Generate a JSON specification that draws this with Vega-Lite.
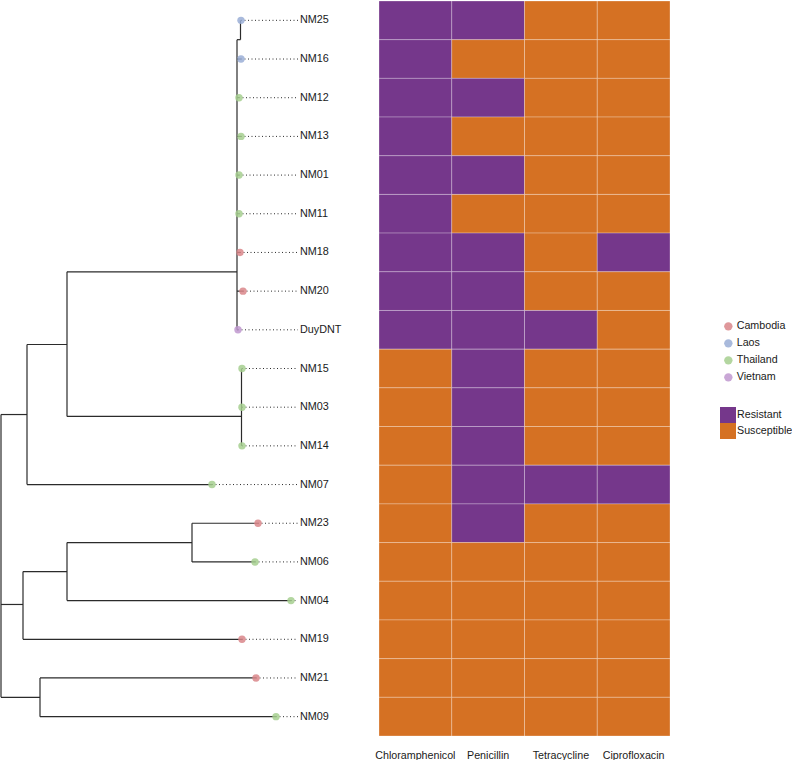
{
  "$schema": "https://vega.github.io/schema/vega-lite/v6.json",
  "padding": 0,
  "spacing": 0,
  "bounds": "flush",
  "config": {
    "view": {"stroke": null},
    "font": "Liberation Sans",
    "legend": {"labelFontSize": 10.7, "labelColor": "#1a1a1a", "labelFont": "Liberation Sans"}
  },
  "datasets": {
    "tips": [
      {"name": "NM25", "row": 0, "x": 241, "country": "Laos"},
      {"name": "NM16", "row": 1, "x": 241, "country": "Laos"},
      {"name": "NM12", "row": 2, "x": 239, "country": "Thailand"},
      {"name": "NM13", "row": 3, "x": 241, "country": "Thailand"},
      {"name": "NM01", "row": 4, "x": 239, "country": "Thailand"},
      {"name": "NM11", "row": 5, "x": 239, "country": "Thailand"},
      {"name": "NM18", "row": 6, "x": 240, "country": "Cambodia"},
      {"name": "NM20", "row": 7, "x": 243, "country": "Cambodia"},
      {"name": "DuyDNT", "row": 8, "x": 238, "country": "Vietnam"},
      {"name": "NM15", "row": 9, "x": 242, "country": "Thailand"},
      {"name": "NM03", "row": 10, "x": 242, "country": "Thailand"},
      {"name": "NM14", "row": 11, "x": 242, "country": "Thailand"},
      {"name": "NM07", "row": 12, "x": 212, "country": "Thailand"},
      {"name": "NM23", "row": 13, "x": 258, "country": "Cambodia"},
      {"name": "NM06", "row": 14, "x": 255, "country": "Thailand"},
      {"name": "NM04", "row": 15, "x": 291, "country": "Thailand"},
      {"name": "NM19", "row": 16, "x": 242, "country": "Cambodia"},
      {"name": "NM21", "row": 17, "x": 256, "country": "Cambodia"},
      {"name": "NM09", "row": 18, "x": 276, "country": "Thailand"}
    ],
    "segs": [
      {"x1": 1, "x2": 1, "y1": 10.19, "y2": 17.5},
      {"x1": 1, "x2": 27, "y1": 10.19, "y2": 10.19},
      {"x1": 1, "x2": 23, "y1": 15.1, "y2": 15.1},
      {"x1": 1, "x2": 40, "y1": 17.5, "y2": 17.5},
      {"x1": 27, "x2": 27, "y1": 8.38, "y2": 12},
      {"x1": 27, "x2": 67, "y1": 8.38, "y2": 8.38},
      {"x1": 27, "x2": 212, "y1": 12, "y2": 12},
      {"x1": 67, "x2": 67, "y1": 6.5, "y2": 10.24},
      {"x1": 67, "x2": 237, "y1": 6.5, "y2": 6.5},
      {"x1": 67, "x2": 241.5, "y1": 10.24, "y2": 10.24},
      {"x1": 237, "x2": 237, "y1": 0.5, "y2": 8},
      {"x1": 240.5, "x2": 240.5, "y1": 0, "y2": 0.5},
      {"x1": 237, "x2": 240.5, "y1": 0.5, "y2": 0.5},
      {"x1": 237, "x2": 241, "y1": 1, "y2": 1},
      {"x1": 237, "x2": 239, "y1": 2, "y2": 2},
      {"x1": 237, "x2": 241, "y1": 3, "y2": 3},
      {"x1": 237, "x2": 239, "y1": 4, "y2": 4},
      {"x1": 237, "x2": 239, "y1": 5, "y2": 5},
      {"x1": 237, "x2": 240, "y1": 6, "y2": 6},
      {"x1": 237, "x2": 243, "y1": 7, "y2": 7},
      {"x1": 237, "x2": 238, "y1": 8, "y2": 8},
      {"x1": 241.5, "x2": 241.5, "y1": 9, "y2": 11},
      {"x1": 23, "x2": 23, "y1": 14.25, "y2": 16},
      {"x1": 23, "x2": 67, "y1": 14.25, "y2": 14.25},
      {"x1": 23, "x2": 242, "y1": 16, "y2": 16},
      {"x1": 67, "x2": 67, "y1": 13.5, "y2": 15},
      {"x1": 67, "x2": 192, "y1": 13.5, "y2": 13.5},
      {"x1": 67, "x2": 291, "y1": 15, "y2": 15},
      {"x1": 192, "x2": 192, "y1": 13, "y2": 14},
      {"x1": 192, "x2": 258, "y1": 13, "y2": 13},
      {"x1": 192, "x2": 255, "y1": 14, "y2": 14},
      {"x1": 40, "x2": 40, "y1": 17, "y2": 18},
      {"x1": 40, "x2": 256, "y1": 17, "y2": 17},
      {"x1": 40, "x2": 276, "y1": 18, "y2": 18}
    ],
    "amr": [
      {"name": "NM25", "Chloramphenicol": "Resistant", "Penicillin": "Resistant", "Tetracycline": "Susceptible", "Ciprofloxacin": "Susceptible"},
      {"name": "NM16", "Chloramphenicol": "Resistant", "Penicillin": "Susceptible", "Tetracycline": "Susceptible", "Ciprofloxacin": "Susceptible"},
      {"name": "NM12", "Chloramphenicol": "Resistant", "Penicillin": "Resistant", "Tetracycline": "Susceptible", "Ciprofloxacin": "Susceptible"},
      {"name": "NM13", "Chloramphenicol": "Resistant", "Penicillin": "Susceptible", "Tetracycline": "Susceptible", "Ciprofloxacin": "Susceptible"},
      {"name": "NM01", "Chloramphenicol": "Resistant", "Penicillin": "Resistant", "Tetracycline": "Susceptible", "Ciprofloxacin": "Susceptible"},
      {"name": "NM11", "Chloramphenicol": "Resistant", "Penicillin": "Susceptible", "Tetracycline": "Susceptible", "Ciprofloxacin": "Susceptible"},
      {"name": "NM18", "Chloramphenicol": "Resistant", "Penicillin": "Resistant", "Tetracycline": "Susceptible", "Ciprofloxacin": "Resistant"},
      {"name": "NM20", "Chloramphenicol": "Resistant", "Penicillin": "Resistant", "Tetracycline": "Susceptible", "Ciprofloxacin": "Susceptible"},
      {"name": "DuyDNT", "Chloramphenicol": "Resistant", "Penicillin": "Resistant", "Tetracycline": "Resistant", "Ciprofloxacin": "Susceptible"},
      {"name": "NM15", "Chloramphenicol": "Susceptible", "Penicillin": "Resistant", "Tetracycline": "Susceptible", "Ciprofloxacin": "Susceptible"},
      {"name": "NM03", "Chloramphenicol": "Susceptible", "Penicillin": "Resistant", "Tetracycline": "Susceptible", "Ciprofloxacin": "Susceptible"},
      {"name": "NM14", "Chloramphenicol": "Susceptible", "Penicillin": "Resistant", "Tetracycline": "Susceptible", "Ciprofloxacin": "Susceptible"},
      {"name": "NM07", "Chloramphenicol": "Susceptible", "Penicillin": "Resistant", "Tetracycline": "Resistant", "Ciprofloxacin": "Resistant"},
      {"name": "NM23", "Chloramphenicol": "Susceptible", "Penicillin": "Resistant", "Tetracycline": "Susceptible", "Ciprofloxacin": "Susceptible"},
      {"name": "NM06", "Chloramphenicol": "Susceptible", "Penicillin": "Susceptible", "Tetracycline": "Susceptible", "Ciprofloxacin": "Susceptible"},
      {"name": "NM04", "Chloramphenicol": "Susceptible", "Penicillin": "Susceptible", "Tetracycline": "Susceptible", "Ciprofloxacin": "Susceptible"},
      {"name": "NM19", "Chloramphenicol": "Susceptible", "Penicillin": "Susceptible", "Tetracycline": "Susceptible", "Ciprofloxacin": "Susceptible"},
      {"name": "NM21", "Chloramphenicol": "Susceptible", "Penicillin": "Susceptible", "Tetracycline": "Susceptible", "Ciprofloxacin": "Susceptible"},
      {"name": "NM09", "Chloramphenicol": "Susceptible", "Penicillin": "Susceptible", "Tetracycline": "Susceptible", "Ciprofloxacin": "Susceptible"}
    ]
  },
  "hconcat": [
    {
      "width": 379,
      "height": 735,
      "layer": [
        {
          "data": {"name": "segs"},
          "mark": {"type": "rule", "color": "#2b2b2b", "strokeWidth": 1.2},
          "encoding": {
            "x": {"field": "x1", "type": "quantitative", "scale": {"domain": [0, 379], "nice": false, "zero": false}, "axis": null},
            "x2": {"field": "x2"},
            "y": {"field": "y1", "type": "quantitative", "scale": {"domain": [-0.5, 18.5], "reverse": true, "nice": false, "zero": false}, "axis": null},
            "y2": {"field": "y2"}
          }
        },
        {
          "data": {"name": "tips"},
          "mark": {"type": "rule", "color": "#2b2b2b", "strokeDash": [1, 2.5], "strokeWidth": 1},
          "encoding": {
            "x": {"field": "x", "type": "quantitative"},
            "x2": {"datum": 298},
            "y": {"field": "row", "type": "quantitative"}
          }
        },
        {
          "data": {"name": "tips"},
          "mark": {"type": "point", "filled": true, "opacity": 0.85, "size": 55},
          "encoding": {
            "x": {"field": "x", "type": "quantitative"},
            "y": {"field": "row", "type": "quantitative"},
            "color": {
              "field": "country",
              "type": "nominal",
              "scale": {"domain": ["Cambodia", "Laos", "Thailand", "Vietnam"], "range": ["#d9868a", "#9aaed6", "#a6cf8f", "#bf98cf"]},
              "legend": {"title": null, "orient": "none", "legendX": 723, "legendY": 320, "symbolSize": 70, "labelOffset": 3, "rowPadding": 5, "symbolOpacity": 0.85}
            }
          }
        },
        {
          "data": {"name": "tips"},
          "mark": {"type": "text", "align": "left", "baseline": "middle", "fontSize": 10.8, "color": "#1a1a1a"},
          "encoding": {
            "x": {"datum": 300},
            "y": {"field": "row", "type": "quantitative"},
            "text": {"field": "name"}
          }
        }
      ]
    },
    {
      "width": 291,
      "height": 735,
      "data": {"name": "amr"},
      "transform": [
        {"fold": ["Chloramphenicol", "Penicillin", "Tetracycline", "Ciprofloxacin"], "as": ["drug", "status"]}
      ],
      "mark": {"type": "rect", "stroke": "white", "strokeOpacity": 0.35, "strokeWidth": 0.8},
      "encoding": {
        "x": {
          "field": "drug",
          "type": "nominal",
          "sort": ["Chloramphenicol", "Penicillin", "Tetracycline", "Ciprofloxacin"],
          "scale": {"paddingInner": 0, "paddingOuter": 0},
          "axis": {"title": null, "orient": "bottom", "ticks": false, "domain": false, "labelAngle": 0, "labelPadding": 14, "labelFontSize": 10.7, "labelColor": "#1a1a1a", "labelFont": "Liberation Sans"}
        },
        "y": {
          "field": "name",
          "type": "nominal",
          "sort": ["NM25", "NM16", "NM12", "NM13", "NM01", "NM11", "NM18", "NM20", "DuyDNT", "NM15", "NM03", "NM14", "NM07", "NM23", "NM06", "NM04", "NM19", "NM21", "NM09"],
          "scale": {"paddingInner": 0, "paddingOuter": 0},
          "axis": null
        },
        "fill": {
          "field": "status",
          "type": "nominal",
          "scale": {"domain": ["Resistant", "Susceptible"], "range": ["#75378b", "#d57123"]},
          "legend": {"title": null, "orient": "none", "legendX": 720, "legendY": 406, "symbolType": "square", "symbolSize": 256, "rowPadding": 0, "labelOffset": 1, "symbolStrokeWidth": 0}
        }
      }
    }
  ]
}
